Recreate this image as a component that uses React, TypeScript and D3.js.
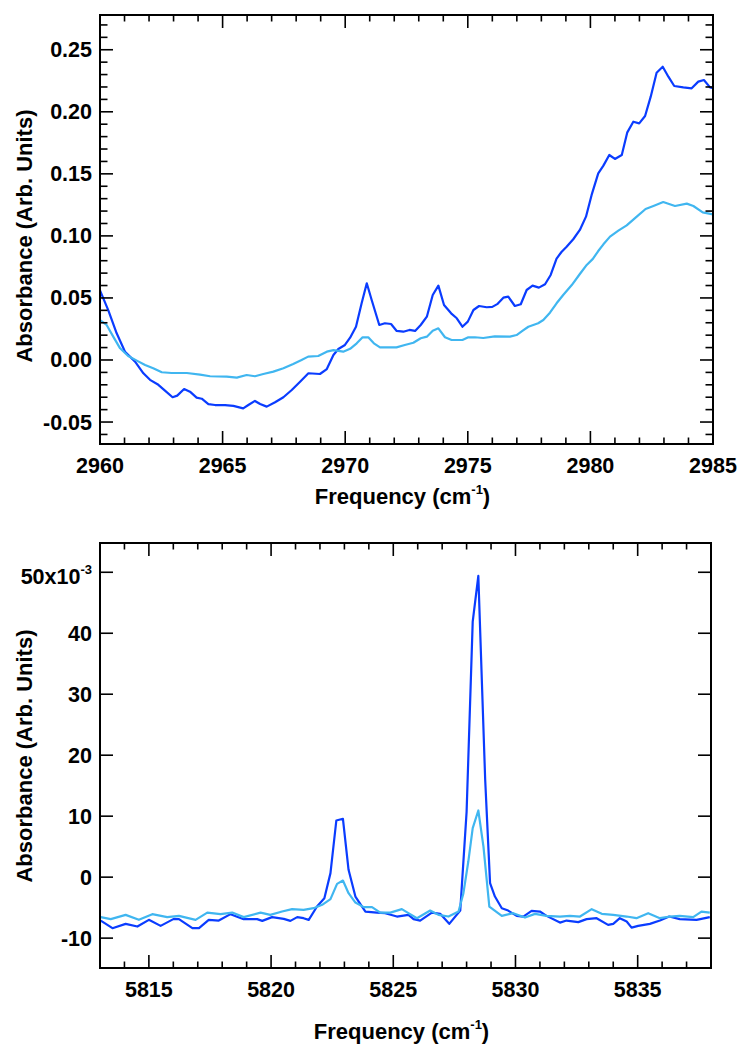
import React from "react";
import * as d3 from "d3";

// ---------- Data ----------
// Top panel: C-H stretch region (absorbance)
const topDark: [number, number][] = [
  [2960.0,0.056],[2960.34,0.040],[2960.68,0.0215],[2961.02,0.0067],[2961.43,-0.0013],[2961.77,-0.0107],
  [2962.04,-0.016],[2962.38,-0.020],[2962.65,-0.0247],[2962.96,-0.030],[2963.15,-0.0287],[2963.43,-0.0234],
  [2963.67,-0.0255],[2963.94,-0.0303],[2964.15,-0.0312],[2964.42,-0.0355],[2964.69,-0.0363],[2965.1,-0.0363],
  [2965.44,-0.037],[2965.84,-0.039],[2966.05,-0.0363],[2966.32,-0.033],[2966.53,-0.0355],[2966.8,-0.0376],
  [2967.14,-0.034],[2967.48,-0.030],[2967.82,-0.0242],[2968.16,-0.0175],[2968.5,-0.0107],[2968.97,-0.0113],
  [2969.25,-0.0073],[2969.52,0.004],[2969.72,0.0089],[2969.99,0.0121],[2970.2,0.018],[2970.44,0.0268],
  [2970.67,0.0457],[2970.88,0.0618],[2971.08,0.0483],[2971.39,0.0282],[2971.62,0.0296],[2971.87,0.029],
  [2972.1,0.0234],[2972.37,0.0228],[2972.62,0.0242],[2972.85,0.0234],[2973.08,0.0282],[2973.33,0.0349],
  [2973.57,0.0524],[2973.8,0.0599],[2974.03,0.0443],[2974.32,0.0376],[2974.55,0.0336],[2974.78,0.0268],
  [2975.0,0.0309],[2975.23,0.0403],[2975.46,0.0435],[2975.77,0.0425],[2976.0,0.0428],[2976.2,0.045],
  [2976.45,0.0502],[2976.65,0.051],[2976.92,0.0435],[2977.16,0.0449],[2977.4,0.0564],[2977.64,0.0599],
  [2977.9,0.0583],[2978.15,0.061],[2978.38,0.0685],[2978.62,0.0817],[2978.82,0.087],[2979.03,0.0913],
  [2979.3,0.0973],[2979.57,0.1048],[2979.82,0.1155],[2980.05,0.133],[2980.32,0.1504],[2980.53,0.1566],
  [2980.77,0.1652],[2981.0,0.162],[2981.28,0.1652],[2981.5,0.1832],[2981.75,0.192],[2981.99,0.1907],
  [2982.23,0.1966],[2982.46,0.2122],[2982.7,0.2315],[2982.95,0.2363],[2983.18,0.2283],[2983.42,0.2208],
  [2983.79,0.2197],[2984.13,0.2189],[2984.4,0.2243],[2984.63,0.2256],[2984.88,0.2197],[2985.0,0.219],
];

const topLight: [number, number][] = [
  [2960,0.0322],[2960.27,0.0282],[2960.54,0.0188],[2960.82,0.0094],[2961.15,0.0032],[2961.5,-0.0005],
  [2961.84,-0.004],[2962.17,-0.0067],[2962.52,-0.0099],[2962.92,-0.0105],[2963.54,-0.0105],[2964.08,-0.0118],
  [2964.49,-0.0131],[2965.17,-0.0134],[2965.58,-0.0142],[2965.98,-0.0121],[2966.32,-0.0131],[2966.66,-0.0113],
  [2967.07,-0.0094],[2967.48,-0.0067],[2967.88,-0.0032],[2968.22,0.0],[2968.49,0.0027],[2968.9,0.0032],
  [2969.25,0.0067],[2969.52,0.008],[2969.92,0.0067],[2970.2,0.009],[2970.47,0.0134],[2970.71,0.0183],
  [2970.94,0.0183],[2971.17,0.0134],[2971.42,0.0102],[2971.75,0.0102],[2972.09,0.0102],[2972.43,0.0121],
  [2972.78,0.0139],[2973.08,0.0175],[2973.33,0.0188],[2973.57,0.0236],[2973.8,0.0255],[2974.07,0.0183],
  [2974.34,0.0161],[2974.78,0.0161],[2975.02,0.0183],[2975.29,0.0183],[2975.63,0.0177],[2976.1,0.019],
  [2976.72,0.0188],[2976.99,0.0201],[2977.24,0.0236],[2977.47,0.0268],[2977.87,0.0296],[2978.08,0.0322],
  [2978.35,0.0381],[2978.62,0.0457],[2978.89,0.0524],[2979.24,0.0604],[2979.57,0.0693],[2979.85,0.0766],
  [2980.1,0.0815],[2980.32,0.0878],[2980.53,0.0932],[2980.8,0.0994],[2981.14,0.1042],[2981.48,0.1085],
  [2981.89,0.1155],[2982.25,0.1217],[2982.57,0.1241],[2982.97,0.1273],[2983.45,0.1241],[2983.93,0.126],
  [2984.2,0.1241],[2984.58,0.119],[2985,0.1174],
];

// Bottom panel: overtone region (absorbance x 1e-3)
const botDark: [number, number][] = [
  [5813.03,-7.12],[5813.51,-8.37],[5814.05,-7.66],[5814.53,-8.1],[5815.0,-7.0],[5815.48,-7.99],
  [5816.02,-6.84],[5816.23,-6.89],[5816.78,-8.37],[5817.05,-8.37],[5817.45,-7.0],[5817.86,-7.12],
  [5818.34,-6.07],[5818.88,-6.89],[5819.43,-6.89],[5819.64,-7.17],[5820.04,-6.56],[5820.52,-6.84],
  [5820.79,-7.17],[5821.07,-6.56],[5821.33,-6.73],[5821.54,-7.0],[5821.88,-4.82],[5822.18,-3.45],
  [5822.43,0.66],[5822.67,9.29],[5822.94,9.57],[5823.17,1.2],[5823.45,-3.18],[5823.86,-5.64],
  [5824.33,-5.81],[5824.67,-5.91],[5825.15,-6.46],[5825.62,-6.19],[5825.83,-6.89],[5826.1,-7.12],
  [5826.58,-5.81],[5826.92,-6.02],[5827.29,-7.66],[5827.74,-5.48],[5828.0,10.7],[5828.25,41.9],
  [5828.48,49.4],[5828.76,16],[5828.96,-0.98],[5829.16,-3.18],[5829.44,-5.09],[5829.7,-5.48],
  [5830.05,-6.35],[5830.32,-6.46],[5830.66,-5.53],[5831.0,-5.64],[5831.27,-6.35],[5831.82,-7.45],
  [5832.09,-7.12],[5832.57,-7.38],[5832.91,-6.89],[5833.32,-6.73],[5833.79,-7.83],[5834.0,-7.66],
  [5834.27,-6.73],[5834.55,-7.28],[5834.75,-8.27],[5835.02,-7.99],[5835.5,-7.66],[5835.91,-7.12],
  [5836.29,-6.46],[5836.72,-6.89],[5837.41,-7.0],[5837.95,-6.56],
];

const botLight: [number, number][] = [
  [5813.03,-6.56],[5813.44,-6.89],[5814.05,-6.19],[5814.59,-7.0],[5815.14,-6.07],[5815.75,-6.56],
  [5816.23,-6.35],[5816.91,-7.0],[5817.39,-5.81],[5817.93,-6.07],[5818.41,-5.81],[5818.88,-6.56],
  [5819.57,-5.81],[5819.97,-6.19],[5820.45,-5.64],[5820.86,-5.25],[5821.33,-5.37],[5821.74,-5.09],
  [5822.09,-4.54],[5822.43,-3.61],[5822.7,-1.1],[5822.94,-0.56],[5823.17,-2.63],[5823.45,-4.17],
  [5823.79,-4.92],[5824.13,-4.92],[5824.47,-5.81],[5824.88,-5.81],[5825.35,-5.25],[5825.62,-5.91],
  [5825.97,-6.73],[5826.51,-5.48],[5826.85,-6.19],[5827.26,-6.46],[5827.67,-5.64],[5827.87,-2.63],
  [5828.07,2.56],[5828.25,8.04],[5828.48,10.93],[5828.69,5.02],[5828.93,-4.82],[5829.44,-6.35],
  [5829.91,-5.91],[5830.39,-6.63],[5830.8,-6.02],[5831.27,-6.35],[5831.82,-6.46],[5832.23,-6.35],
  [5832.64,-6.46],[5833.12,-5.25],[5833.53,-6.02],[5834.0,-6.19],[5834.55,-6.46],[5834.95,-6.73],
  [5835.43,-5.91],[5835.91,-6.73],[5836.32,-6.46],[5836.72,-6.35],[5837.27,-6.56],[5837.61,-5.64],
  [5837.95,-5.81],
];

// Ticks
const topXMajor = [2960, 2965, 2970, 2975, 2980, 2985];
const topYMajor = [-0.05, 0.0, 0.05, 0.1, 0.15, 0.2, 0.25];
const topYLabels = ["-0.05", "0.00", "0.05", "0.10", "0.15", "0.20", "0.25"];
const botXMajor = [5815, 5820, 5825, 5830, 5835];
const botYMajor = [-10, 0, 10, 20, 30, 40, 50];
const botYLabels = ["-10", "0", "10", "20", "30", "40", "50x10"];

const DARK = "#0a3cff";
const LIGHT = "#40b6f0";
const FONT = "'Liberation Sans', Arial, Helvetica, sans-serif";

type PanelProps = {
  id: string;
  left: number; right: number; top: number; bottom: number;
  xDomain: [number, number]; yDomain: [number, number];
  xMajor: number[]; xMinor: number[];
  yMajor: number[]; yLabels: string[]; yMinor: number[];
  series: { data: [number, number][]; color: string }[];
  xTitleY: number; yTitleCY: number;
  topSuperscript?: boolean;
};

function Panel(p: PanelProps) {
  const x = d3.scaleLinear().domain(p.xDomain).range([p.left, p.right]);
  const y = d3.scaleLinear().domain(p.yDomain).range([p.bottom, p.top]);
  const line = d3.line<[number, number]>().x((d) => x(d[0])).y((d) => y(d[1]));
  const MAJ = 13, MIN = 6.5;
  const tickStroke = { stroke: "#000", strokeWidth: 1.6 };
  const fs = 21.5;
  return (
    <g>
      <defs>
        <clipPath id={p.id}>
          <rect x={p.left} y={p.top} width={p.right - p.left} height={p.bottom - p.top} />
        </clipPath>
      </defs>
      <g clipPath={`url(#${p.id})`} fill="none" strokeWidth={2.2} strokeLinejoin="round">
        {p.series.map((s, i) => (
          <path key={i} d={line(s.data) || ""} stroke={s.color} />
        ))}
      </g>
      {/* x ticks bottom & top */}
      {p.xMinor.map((v) => (
        <g key={"xm" + v}>
          <line x1={x(v)} x2={x(v)} y1={p.bottom} y2={p.bottom - MIN} {...tickStroke} />
          <line x1={x(v)} x2={x(v)} y1={p.top} y2={p.top + MIN} {...tickStroke} />
        </g>
      ))}
      {p.xMajor.map((v) => (
        <g key={"xM" + v}>
          <line x1={x(v)} x2={x(v)} y1={p.bottom} y2={p.bottom - MAJ} {...tickStroke} />
          <line x1={x(v)} x2={x(v)} y1={p.top} y2={p.top + MAJ} {...tickStroke} />
          <text x={x(v)} y={p.bottom + 29} textAnchor="middle" fontSize={fs} fontWeight="bold" fontFamily={FONT}>
            {String(v)}
          </text>
        </g>
      ))}
      {/* y ticks left & right */}
      {p.yMinor.map((v) => (
        <g key={"ym" + v}>
          <line x1={p.left} x2={p.left + MIN + 1} y1={y(v)} y2={y(v)} {...tickStroke} />
          <line x1={p.right} x2={p.right - MIN - 1} y1={y(v)} y2={y(v)} {...tickStroke} />
        </g>
      ))}
      {p.yMajor.map((v, i) => (
        <g key={"yM" + v}>
          <line x1={p.left} x2={p.left + MAJ} y1={y(v)} y2={y(v)} {...tickStroke} />
          <line x1={p.right} x2={p.right - MAJ} y1={y(v)} y2={y(v)} {...tickStroke} />
          <text
            x={92}
            y={y(v) + (p.topSuperscript && i === p.yMajor.length - 1 ? 12 : 7.5)}
            textAnchor="end"
            fontSize={fs}
            fontWeight="bold"
            fontFamily={FONT}
          >
            {p.yLabels[i]}
            {p.topSuperscript && i === p.yMajor.length - 1 ? (
              <tspan dy={-10} fontSize={13}>-3</tspan>
            ) : null}
          </text>
        </g>
      ))}
      <rect
        x={p.left}
        y={p.top}
        width={p.right - p.left}
        height={p.bottom - p.top}
        fill="none"
        stroke="#000"
        strokeWidth={2}
      />
      <text
        x={(p.left + p.right) / 2 - 4}
        y={p.xTitleY}
        textAnchor="middle"
        fontSize={22}
        fontWeight="bold"
        fontFamily={FONT}
      >
        Frequency (cm<tspan dy={-10} fontSize={13}>-1</tspan>
        <tspan dy={10} fontSize={22}>)</tspan>
      </text>
      <text
        transform={`translate(32,${p.yTitleCY}) rotate(-90)`}
        textAnchor="middle"
        fontSize={22}
        fontWeight="bold"
        fontFamily={FONT}
      >
        Absorbance (Arb. Units)
      </text>
    </g>
  );
}

export default function App() {
  return (
    <svg
      width={742}
      height={1047}
      style={{ position: "absolute", left: 0, top: 0, background: "#fff" }}
    >
      <rect width={742} height={1047} fill="#fff" />
      <Panel
        id="clipTop"
        left={100}
        right={713}
        top={15}
        bottom={444}
        xDomain={[2960, 2985]}
        yDomain={[-0.0677, 0.278]}
        xMajor={topXMajor}
        xMinor={d3.range(2960, 2986, 1).filter((v) => v % 5 !== 0)}
        yMajor={topYMajor}
        yLabels={topYLabels}
        yMinor={d3.range(-6, 28, 1).filter((v) => v % 5 !== 0).map((v) => v / 100)}
        series={[
          { data: topDark, color: DARK },
          { data: topLight, color: LIGHT },
        ]}
        xTitleY={503.5}
        yTitleCY={236}
      />
      <Panel
        id="clipBot"
        left={100}
        right={711}
        top={543}
        bottom={968}
        xDomain={[5813, 5838]}
        yDomain={[-14.9, 54.8]}
        xMajor={botXMajor}
        xMinor={d3.range(5814, 5838, 1).filter((v) => v % 5 !== 0)}
        yMajor={botYMajor}
        yLabels={botYLabels}
        yMinor={[]}
        series={[
          { data: botDark, color: DARK },
          { data: botLight, color: LIGHT },
        ]}
        xTitleY={1038.5}
        yTitleCY={756}
        topSuperscript
      />
    </svg>
  );
}
